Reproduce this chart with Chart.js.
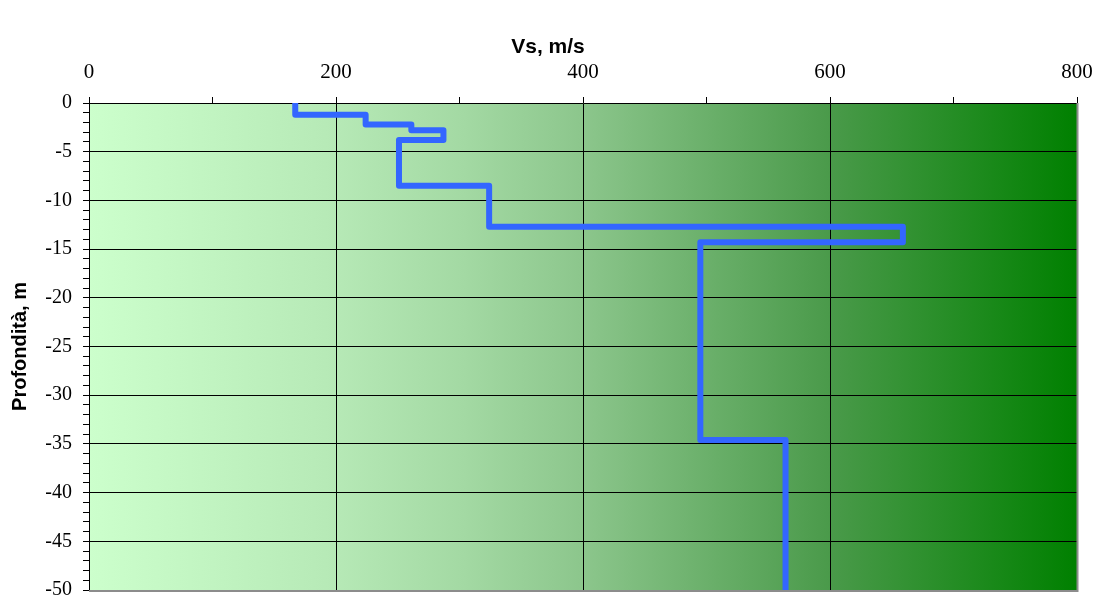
<!DOCTYPE html>
<html>
<head>
<meta charset="utf-8">
<script src="https://cdn.jsdelivr.net/npm/chart.js@4/dist/chart.umd.min.js"></script>
<style>
  html, body { margin: 0; padding: 0; background: #ffffff; }
  #wrap { width: 1101px; height: 602px; position: relative; }
</style>
</head>
<body>
<div id="wrap"><canvas id="c" width="1101" height="602"></canvas></div>
<script>
// Layer shear-wave velocities (m/s), top to bottom
const vsValues = [167, 224, 261, 287, 251, 324, 659, 495, 564];
// Layer boundary depths (m), from surface down
const depthBounds = [0, -1.2, -2.2, -2.8, -3.8, -8.5, -12.7, -14.3, -34.6, -50];
// Axis tick labels
const xTickLabels = [0, 200, 400, 600, 800];
const yTickLabels = [0, -5, -10, -15, -20, -25, -30, -35, -40, -45, -50];
const titleX = 'Vs, m/s';
const titleY = 'Profondità, m';

const profile = [];
vsValues.forEach((v, i) => {
  profile.push({ x: v, y: depthBounds[i] });
  profile.push({ x: v, y: depthBounds[i + 1] });
});

const bgPlugin = {
  id: 'bg',
  beforeDraw(chart) {
    const { ctx, chartArea: a } = chart;
    const g = ctx.createLinearGradient(a.left, 0, a.right, 0);
    g.addColorStop(0, '#ccffcc');
    g.addColorStop(0.25, '#b6e9b6');
    g.addColorStop(0.38, '#a3d9a3');
    g.addColorStop(0.5, '#8cc68c');
    g.addColorStop(0.75, '#4a9a4a');
    g.addColorStop(1, '#008000');
    ctx.save();
    ctx.fillStyle = g;
    ctx.fillRect(a.left, a.top, a.right - a.left, a.bottom - a.top);
    ctx.restore();
  },
  afterDraw(chart) {
    const { ctx, chartArea: a } = chart;
    ctx.save();
    ctx.strokeStyle = '#8c8c8c';
    ctx.lineWidth = 2;
    ctx.beginPath();
    ctx.moveTo(a.right + 0.5, a.top);
    ctx.lineTo(a.right + 0.5, a.bottom + 1);
    ctx.lineTo(a.left, a.bottom + 1);
    ctx.stroke();
    ctx.fillStyle = '#000';
    ctx.textAlign = 'center';
    ctx.textBaseline = 'middle';
    ctx.font = 'bold 21px "Liberation Sans", Arial, sans-serif';
    ctx.fillText(titleX, 548, 47);
    ctx.translate(20, (a.top + a.bottom) / 2);
    ctx.rotate(-Math.PI / 2);
    ctx.font = 'bold 20px "Liberation Sans", Arial, sans-serif';
    ctx.fillText(titleY, 0, 0);
    ctx.restore();
  }
};

new Chart(document.getElementById('c'), {
  type: 'scatter',
  data: {
    datasets: [{
      data: profile,
      showLine: true,
      borderColor: '#3366ff',
      borderWidth: 6,
      pointRadius: 0,
      pointHoverRadius: 0,
      borderJoinStyle: 'round',
      borderCapStyle: 'butt',
      tension: 0
    }]
  },
  options: {
    responsive: false,
    animation: false,
    layout: { padding: { top: 0, right: 24, bottom: 12, left: 0 } },
    plugins: { legend: { display: false }, tooltip: { enabled: false } },
    scales: {
      x: {
        type: 'linear',
        position: 'top',
        min: 0, max: 800,
        afterFit(s) { s.height = 103; s.paddingLeft = 0; s.paddingRight = 0; },
        border: { color: '#000', width: 1 },
        grid: {
          color: (c) => (c.tick && xTickLabels.includes(c.tick.value) && c.tick.value !== 800 && c.tick.value !== 0) ? '#000' : 'rgba(0,0,0,0)',
          tickColor: '#000',
          tickLength: 6,
          drawTicks: true
        },
        ticks: {
          stepSize: 100,
          autoSkip: false,
          maxRotation: 0,
          padding: 12,
          color: '#000',
          font: { family: '"Liberation Serif", "Times New Roman", serif', size: 21 },
          callback: (v) => xTickLabels.includes(v) ? String(v) : ''
        }
      },
      y: {
        type: 'linear',
        min: -50, max: 0,
        afterFit(s) { s.width = 89; s.paddingTop = 0; s.paddingBottom = 0; },
        border: { color: '#000', width: 1 },
        grid: {
          color: (c) => (c.tick && yTickLabels.includes(c.tick.value) && c.tick.value !== 0 && c.tick.value !== -50) ? '#000' : 'rgba(0,0,0,0)',
          tickColor: '#000',
          tickLength: 6,
          drawTicks: true
        },
        ticks: {
          stepSize: 1,
          autoSkip: false,
          maxTicksLimit: 100,
          padding: 11,
          color: '#000',
          font: { family: '"Liberation Serif", "Times New Roman", serif', size: 20 },
          callback: (v) => yTickLabels.includes(v) ? String(v) : ''
        }
      }
    }
  },
  plugins: [bgPlugin]
});
</script>
</body>
</html>
